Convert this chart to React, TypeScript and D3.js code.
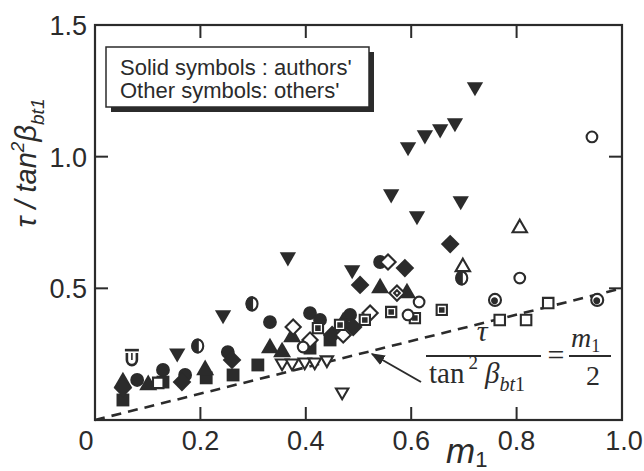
import React from 'react';
import * as d3 from 'd3';

const W = 644;
const H = 471;
const INK = '#2b2b2b';

// axis ticks
const xTicks = [0.2, 0.4, 0.6, 0.8];
const yTicks = [0.5, 1.0];
const xTickLabels: [number, string][] = [[0.2, '0.2'], [0.4, '0.4'], [0.6, '0.6'], [0.8, '0.8'], [1.0, '1.0']];
const yTickLabels: [number, string][] = [[0.5, '0.5'], [1.0, '1.0'], [1.5, '1.5']];

// data series [m1, tau/tan^2]
const solidDown: [number, number][] = [
  [0.721, 1.265], [0.683, 1.128], [0.655, 1.105], [0.626, 1.082], [0.594, 1.037],
  [0.562, 0.858], [0.694, 0.832], [0.611, 0.775], [0.366, 0.619], [0.488, 0.570],
  [0.243, 0.399], [0.156, 0.254],
];
const solidDiamond: [number, number][] = [
  [0.674, 0.668], [0.588, 0.577], [0.503, 0.513], [0.053, 0.122], [0.165, 0.144],
  [0.260, 0.228], [0.450, 0.323], [0.490, 0.353],
];
const solidCircle: [number, number][] = [
  [0.541, 0.600], [0.332, 0.372], [0.129, 0.190], [0.408, 0.406], [0.427, 0.380],
  [0.080, 0.152], [0.171, 0.171], [0.252, 0.258], [0.484, 0.399],
];
const solidUp: [number, number][] = [
  [0.541, 0.501], [0.592, 0.482], [0.053, 0.144], [0.101, 0.133], [0.209, 0.190],
  [0.332, 0.273], [0.355, 0.258], [0.374, 0.315], [0.471, 0.372],
];
const solidSquare: [number, number][] = [
  [0.053, 0.076], [0.129, 0.144], [0.211, 0.160], [0.309, 0.209], [0.262, 0.171],
  [0.408, 0.273], [0.446, 0.304],
];
const openDiamond: [number, number][] = [
  [0.556, 0.600], [0.376, 0.353], [0.408, 0.304], [0.471, 0.323], [0.522, 0.406],
];
const openDiamondDot: [number, number][] = [[0.573, 0.482]];
const openSquareDot: [number, number][] = [
  [0.562, 0.410], [0.607, 0.387], [0.658, 0.418], [0.423, 0.349], [0.465, 0.361], [0.512, 0.380],
];
const openCircle: [number, number][] = [
  [0.943, 1.075], [0.615, 0.448], [0.594, 0.399], [0.806, 0.539], [0.395, 0.277],
];
const openUp: [number, number][] = [[0.806, 0.729], [0.698, 0.581]];
const halfCircle: [number, number][] = [[0.298, 0.441], [0.195, 0.281], [0.696, 0.539]];
const bullseye: [number, number][] = [[0.759, 0.456], [0.953, 0.456]];
const openSquare: [number, number][] = [[0.860, 0.444], [0.768, 0.380], [0.818, 0.380], [0.120, 0.141]];
const openDown: [number, number][] = [
  [0.355, 0.216], [0.374, 0.216], [0.398, 0.220], [0.417, 0.220], [0.440, 0.228], [0.469, 0.106],
];
const cupSymbol: [number, number][] = [[0.070, 0.235]];

const lineX = [0, 1];

const x = d3.scaleLinear().domain([0, 1]).range([95, 622]);
const y = d3.scaleLinear().domain([0, 1.5]).range([420, 25]);

const tri = d3.symbol().type(d3.symbolTriangle);
const sq = d3.symbol().type(d3.symbolSquare);
const circ = d3.symbol().type(d3.symbolCircle);

export default function App() {
  const pts = (arr: [number, number][], render: (px: number, py: number, i: number) => React.ReactNode) =>
    arr.map(([a, b], i) => render(x(a), y(b), i));

  const linePath = d3.line<number>().x((d) => x(d)).y((d) => y(d / 2))(lineX) as string;
  const font = "'Liberation Sans', Arial, sans-serif";
  const serif = "'Liberation Serif', 'Times New Roman', serif";

  return (
    <svg width={W} height={H} style={{ position: 'absolute', left: 0, top: 0, background: '#fff' }}>
      <rect x={0} y={0} width={W} height={H} fill="#fff" />
      {/* frame */}
      <rect x={x(0)} y={y(1.5)} width={x(1) - x(0)} height={y(0) - y(1.5)} fill="none" stroke={INK} strokeWidth={2.2} />
      {xTicks.map((t) => (
        <g key={'xt' + t}>
          <line x1={x(t)} x2={x(t)} y1={y(0)} y2={y(0) - 13} stroke={INK} strokeWidth={2} />
          <line x1={x(t)} x2={x(t)} y1={y(1.5)} y2={y(1.5) + 13} stroke={INK} strokeWidth={2} />
        </g>
      ))}
      {yTicks.map((t) => (
        <g key={'yt' + t}>
          <line x1={x(0)} x2={x(0) + 13} y1={y(t)} y2={y(t)} stroke={INK} strokeWidth={2} />
          <line x1={x(1)} x2={x(1) - 13} y1={y(t)} y2={y(t)} stroke={INK} strokeWidth={2} />
        </g>
      ))}
      {/* tick labels */}
      <g fontFamily={font} fontSize={27} fill={INK}>
        <text x={x(0) - 9} y={450} textAnchor="middle">0</text>
        {xTickLabels.map(([v, s]) => (
          <text key={'xl' + s} x={x(v) + (v === 1 ? 2 : 0)} y={450} textAnchor="middle">{s}</text>
        ))}
        {yTickLabels.map(([v, s]) => (
          <text key={'yl' + s} x={87} y={y(v) + 10} textAnchor="end">{s}</text>
        ))}
      </g>
      {/* axis titles */}
      <text x={446} y={463} fontFamily={font} fontStyle="italic" fontSize={35} fill={INK}>
        m<tspan fontSize={22} dy={4} fontStyle="normal">1</tspan>
      </text>
      <text transform="translate(36,163) rotate(-90)" textAnchor="middle" fontFamily={font} fontStyle="italic" fontSize={29} fill={INK}>
        τ / tan<tspan fontSize={19} dy={-12}>2</tspan><tspan dy={12}>β</tspan><tspan fontSize={19} dy={8}>bt1</tspan>
      </text>

      {/* legend */}
      <rect x={111} y={52} width={263} height={60} fill={INK} />
      <rect x={106} y={47} width={263} height={60} fill="#fff" stroke={INK} strokeWidth={1.5} />
      <g fontFamily={font} fontSize={22} fill={INK}>
        <text x={120} y={75}>Solid symbols : authors'</text>
        <text x={120} y={98}>Other symbols: others'</text>
      </g>

      {/* reference line */}
      <path d={linePath} fill="none" stroke={INK} strokeWidth={2.6} strokeDasharray="10 7" />

      {/* solid markers */}
      <g fill={INK}>
        {pts(solidCircle, (px, py, i) => <path key={'sc' + i} d={circ.size(150)() as string} transform={`translate(${px},${py})`} />)}
        {pts(solidSquare, (px, py, i) => <path key={'ss' + i} d={sq.size(165)() as string} transform={`translate(${px},${py})`} />)}
        {pts(solidUp, (px, py, i) => <path key={'su' + i} d={tri.size(140)() as string} transform={`translate(${px},${py})`} />)}
        {pts(solidDiamond, (px, py, i) => <path key={'sd' + i} d={sq.size(175)() as string} transform={`translate(${px},${py}) rotate(45)`} />)}
        {pts(solidDown, (px, py, i) => <path key={'sv' + i} d={tri.size(115)() as string} transform={`translate(${px},${py}) rotate(180)`} />)}
      </g>
      {/* open markers */}
      <g fill="#fff" stroke={INK} strokeWidth={2.1}>
        {pts(openDown, (px, py, i) => <path key={'ov' + i} d={tri.size(66)() as string} transform={`translate(${px},${py}) rotate(180)`} />)}
        {pts(openDiamond, (px, py, i) => <path key={'od' + i} d={sq.size(115)() as string} transform={`translate(${px},${py}) rotate(45)`} />)}
        {pts(openDiamondDot, (px, py, i) => (
          <g key={'odd' + i} transform={`translate(${px},${py}) rotate(45)`}>
            <path d={sq.size(115)() as string} />
            <path d={sq.size(16)() as string} />
          </g>
        ))}
        {pts(openSquareDot, (px, py, i) => (
          <g key={'osd' + i} transform={`translate(${px},${py})`}>
            <path d={sq.size(105)() as string} />
            <path d={sq.size(12)() as string} fill={INK} />
          </g>
        ))}
        {pts(openSquare, (px, py, i) => <path key={'os' + i} d={sq.size(110)() as string} transform={`translate(${px},${py})`} />)}
        {pts(openCircle, (px, py, i) => <path key={'oc' + i} d={circ.size(90)() as string} transform={`translate(${px},${py})`} />)}
        {pts(openUp, (px, py, i) => <path key={'ou' + i} d={tri.size(90)() as string} transform={`translate(${px},${py})`} />)}
        {pts(halfCircle, (px, py, i) => (
          <g key={'hc' + i} transform={`translate(${px},${py})`}>
            <ellipse rx={5.5} ry={6.5} />
            <path d="M0,-6.5 A5.5,6.5 0 0 0 0,6.5 Z" fill={INK} />
          </g>
        ))}
        {pts(bullseye, (px, py, i) => (
          <g key={'be' + i} transform={`translate(${px},${py})`}>
            <circle r={6} />
            <circle r={2.4} cx={-0.5} cy={0.8} fill={INK} />
          </g>
        ))}
        {pts(cupSymbol, (px, py, i) => (
          <g key={'cu' + i} transform={`translate(${px},${py})`} fill="none" strokeWidth={2.6}>
            <line x1={-7} x2={7} y1={-8} y2={-8} />
            <path d="M-5,-5 L-5,2 A5,5 0 0 0 5,2 L5,-5" />
            <line x1={0} x2={0} y1={-5} y2={2} strokeWidth={1.6} />
          </g>
        ))}
      </g>

      {/* formula annotation */}
      <g fontFamily={serif} fill={INK}>
        <text x={482} y={341} fontSize={30} fontStyle="italic" textAnchor="middle">τ</text>
        <line x1={426} x2={541} y1={356} y2={356} stroke={INK} strokeWidth={2} />
        <text x={429} y={383} fontSize={29}>
          tan<tspan fontSize={19} dy={-14} dx={4}>2</tspan>
          <tspan fontStyle="italic" dy={14} dx={7}>β</tspan>
          <tspan fontStyle="italic" fontSize={20} dy={8}>bt</tspan>
          <tspan fontSize={20}>1</tspan>
        </text>
        <text x={556} y={365} fontSize={30} textAnchor="middle">=</text>
        <text x={571} y={347} fontSize={28} fontStyle="italic">
          m<tspan fontStyle="normal" fontSize={18} dy={5}>1</tspan>
        </text>
        <line x1={569} x2={611} y1={356} y2={356} stroke={INK} strokeWidth={2} />
        <text x={593} y={385} fontSize={28} textAnchor="middle">2</text>
      </g>
      {/* arrow */}
      <defs>
        <marker id="ah" viewBox="0 0 10 10" refX={9} refY={5} markerWidth={7} markerHeight={7} orient="auto">
          <path d="M0,1 L10,5 L0,9 Z" fill={INK} />
        </marker>
      </defs>
      <line x1={421} y1={382} x2={372} y2={354} stroke={INK} strokeWidth={2} markerEnd="url(#ah)" />
    </svg>
  );
}
